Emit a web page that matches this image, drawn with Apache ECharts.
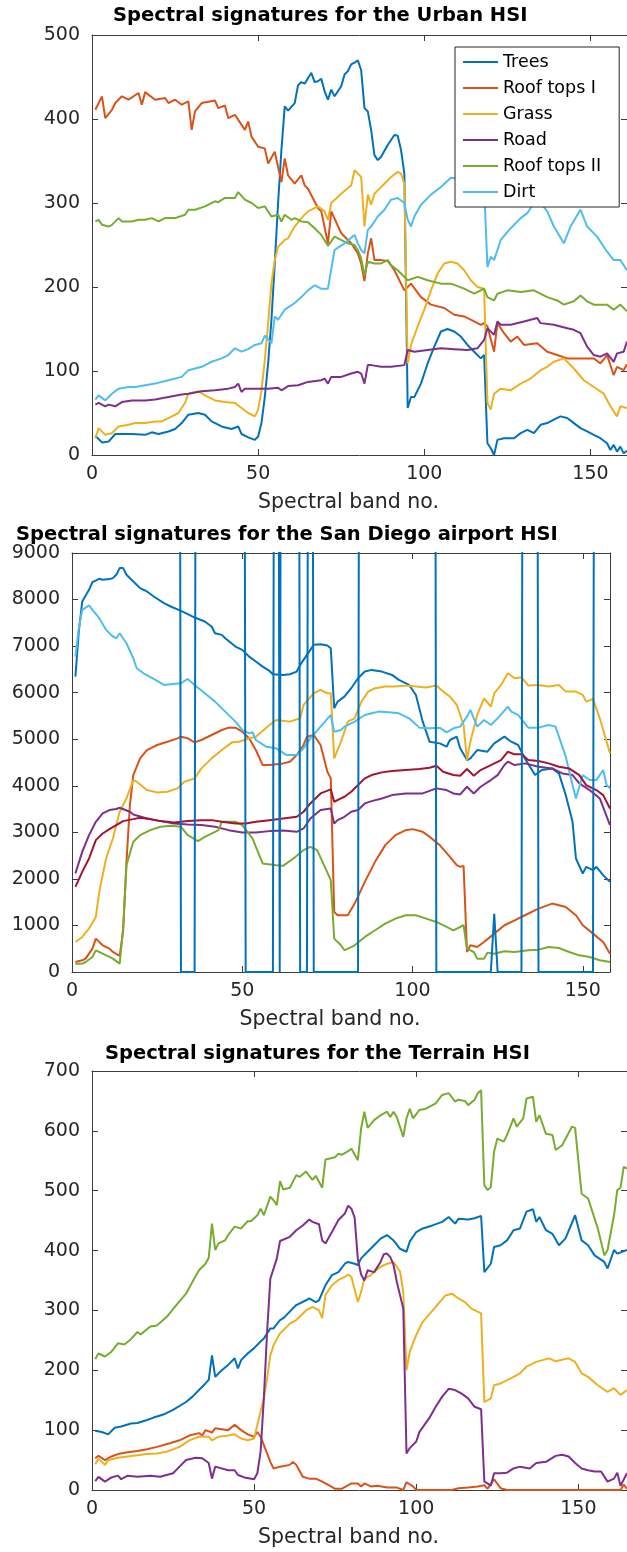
<!DOCTYPE html>
<html>
<head>
<meta charset="utf-8">
<script src="https://cdn.jsdelivr.net/npm/echarts@6/dist/echarts.min.js"></script>
<style>
html, body { margin: 0; padding: 0; background: #fff; }
#chart { width: 627px; height: 1552px; }
</style>
</head>
<body>
<div id="chart"></div>
<script>
// ---------- Urban HSI: [band, value] ----------
const urbanNames = ['Trees', 'Roof tops I', 'Grass', 'Road', 'Roof tops II', 'Dirt'];
const urbanBandTicks = [0, 50, 100, 150];
const urbanBandMax = 161;
const urbanValueTicks = [0, 100, 200, 300, 400, 500];

const urbanTrees = [[1,23],[3,15],[5,16],[7,25],[9,25],[12,25],[16,24],[18,27],[20,25],[23,28],[25,31],[27,38],[29,48],[32,50],[34,48],[36,40],[39,34],[42,31],[44,34],[45,25],[47,21],[49,18],[50,22],[51,38],[52,69],[53,109],[54,161],[55,228],[56,300],[57,363],[58,415],[59,410],[61,419],[62,440],[63,444],[64,442],[66,455],[67,444],[68,445],[69,448],[70,433],[71,423],[72,435],[73,427],[75,439],[76,453],[77,457],[78,465],[79,467],[80,470],[81,458],[82,413],[83,409],[84,387],[85,357],[86,351],[87,355],[89,369],[91,381],[92,380],[93,363],[94,335],[95,56],[96,69],[97,69],[99,85],[101,109],[103,129],[105,147],[107,150],[109,147],[111,141],[113,131],[115,123],[117,115],[118,119],[119,14],[120,8],[121,0],[122,18],[124,20],[127,20],[129,26],[131,30],[133,26],[135,36],[137,38],[139,42],[141,46],[143,44],[145,38],[147,32],[149,28],[151,24],[153,20],[155,14],[156,6],[157,12],[158,4],[159,10],[160,2],[161,5]];
const urbanRoofI = [[1,411],[3,427],[4,401],[6,411],[7,419],[9,427],[11,423],[14,431],[15,417],[16,432],[19,423],[22,425],[23,419],[25,423],[27,417],[29,421],[30,387],[31,409],[33,419],[37,422],[38,413],[40,416],[41,401],[43,405],[46,387],[47,397],[48,379],[50,367],[52,365],[53,347],[55,361],[57,325],[58,353],[59,333],[61,323],[63,333],[64,321],[65,317],[68,294],[69,290],[71,252],[72,290],[75,264],[78,252],[80,240],[81,228],[82,207],[83,240],[84,258],[85,232],[87,232],[89,231],[91,220],[94,196],[96,204],[99,188],[102,179],[106,175],[109,167],[112,165],[115,159],[117,155],[118,157],[119,153],[121,123],[122,157],[124,145],[126,135],[128,141],[130,131],[134,133],[137,123],[140,119],[143,115],[148,115],[151,115],[153,109],[155,119],[157,95],[158,105],[160,101],[161,108]];
const urbanGrass = [[1,20],[2,32],[4,24],[6,26],[8,34],[11,36],[13,38],[16,38],[19,40],[21,40],[23,44],[26,50],[28,62],[29,73],[32,76],[34,71],[37,65],[40,63],[43,62],[45,56],[47,50],[49,46],[50,54],[51,77],[52,113],[53,157],[54,204],[55,232],[56,248],[58,256],[59,258],[61,272],[63,282],[65,290],[68,296],[70,290],[71,280],[72,300],[75,311],[78,321],[79,339],[80,335],[81,331],[82,272],[83,310],[84,298],[85,311],[86,315],[88,323],[90,331],[92,337],[93,335],[94,323],[95,109],[96,131],[98,153],[100,173],[102,196],[104,216],[106,228],[108,230],[110,228],[112,220],[114,208],[116,200],[118,198],[119,62],[120,54],[121,73],[123,79],[126,77],[129,85],[132,91],[135,101],[137,105],[139,111],[142,115],[145,103],[148,89],[151,81],[154,73],[156,58],[158,46],[159,58],[161,56]];
const urbanRoad = [[1,60],[2,62],[4,58],[5,60],[7,58],[9,63],[12,65],[16,65],[19,66],[23,69],[27,72],[29,73],[33,76],[37,77],[41,79],[43,81],[44,85],[45,75],[46,79],[49,79],[53,79],[56,80],[57,77],[59,82],[62,83],[65,87],[69,89],[70,91],[71,85],[72,93],[75,93],[78,97],[80,99],[81,97],[82,85],[83,107],[84,107],[87,105],[90,105],[94,107],[95,125],[97,123],[101,125],[105,127],[109,126],[113,125],[116,127],[118,137],[119,151],[121,143],[122,159],[123,155],[126,155],[130,159],[134,163],[135,157],[139,155],[143,151],[145,149],[147,145],[149,129],[151,119],[153,117],[155,121],[157,111],[158,121],[160,123],[161,135]];
const urbanRoofII = [[1,278],[2,280],[3,274],[5,272],[6,274],[8,282],[9,278],[12,278],[14,280],[16,280],[18,282],[20,278],[22,282],[25,282],[28,286],[29,292],[31,292],[34,296],[37,302],[38,301],[40,306],[43,306],[44,313],[46,304],[48,300],[50,294],[52,296],[54,284],[56,286],[57,278],[58,286],[60,280],[61,282],[63,278],[65,277],[67,270],[69,262],[71,249],[73,260],[77,252],[79,250],[80,244],[81,234],[82,214],[83,230],[85,228],[87,228],[89,232],[90,226],[92,220],[95,208],[98,212],[101,208],[105,204],[108,204],[112,198],[115,192],[117,196],[118,198],[119,188],[121,184],[122,192],[125,196],[129,194],[133,196],[137,188],[140,184],[142,179],[145,183],[147,190],[149,183],[151,179],[155,179],[157,173],[159,179],[161,171]];
const urbanDirt = [[1,66],[2,71],[4,65],[6,73],[8,79],[11,81],[13,81],[16,83],[19,85],[23,89],[27,93],[29,101],[33,105],[36,111],[39,115],[41,119],[43,127],[45,123],[47,126],[49,131],[51,133],[52,142],[54,133],[55,165],[56,161],[58,173],[61,181],[63,188],[65,196],[67,202],[69,198],[71,198],[73,244],[76,252],[79,262],[80,252],[81,244],[82,240],[83,268],[84,272],[86,284],[88,292],[90,304],[92,306],[94,300],[95,280],[96,272],[97,284],[99,298],[102,310],[105,319],[108,330],[112,328],[116,325],[118,320],[119,224],[120,236],[121,232],[123,256],[126,270],[129,282],[131,288],[133,300],[135,300],[137,290],[139,272],[142,252],[144,272],[147,292],[149,272],[152,260],[155,242],[157,232],[159,232],[161,220]];

// ---------- San Diego airport HSI: [band, value] ----------
const sdBandTicks = [0, 50, 100, 150];
const sdBandMax = 158;
const sdValueTicks = [0, 1000, 2000, 3000, 4000, 5000, 6000, 7000, 8000, 9000];

const sdBlue = [[1,6345],[2,7313],[3,7958],[5,8209],[6,8374],[8,8446],[9,8425],[11,8439],[12,8460],[13,8532],[14,8676],[15,8676],[16,8532],[18,8389],[20,8245],[22,8174],[24,8066],[27,7923],[29,7851],[32,7758],[34,7686],[36,7614],[39,7528],[41,7421],[42,7277],[44,7241],[45,7170],[48,6991],[50,6919],[52,6775],[54,6668],[56,6560],[58,6467],[59,6396],[62,6381],[64,6396],[66,6453],[67,6596],[69,6812],[71,7027],[73,7041],[75,7012],[76,6955],[77,5664],[78,5808],[80,5915],[82,6095],[84,6310],[86,6453],[88,6489],[91,6453],[94,6381],[96,6274],[99,6166],[101,5951],[103,5378],[105,4947],[108,4911],[110,4840],[111,4983],[113,5055],[114,4804],[116,4553],[117,4589],[119,4768],[122,4732],[124,4911],[127,5055],[129,4947],[131,4876],[133,4589],[136,4230],[138,4338],[141,4373],[143,4266],[145,3800],[147,3226],[148,2438],[150,2115],[151,2259],[153,2187],[154,2259],[156,2080],[158,1936]];
const sdOrange = [[1,215],[3,251],[4,287],[6,502],[7,717],[9,574],[11,502],[12,430],[14,344],[15,860],[16,2366],[17,3585],[18,4230],[20,4589],[22,4768],[25,4876],[28,4947],[31,5019],[32,5055],[34,5019],[36,4933],[38,4983],[41,5091],[44,5198],[46,5248],[48,5248],[50,5162],[52,5019],[54,4768],[56,4445],[58,4445],[62,4481],[64,4517],[66,4660],[68,4876],[69,5055],[71,5091],[73,4876],[75,4302],[76,4159],[77,1291],[78,1219],[81,1219],[83,1470],[86,1936],[89,2366],[92,2725],[95,2940],[98,3047],[100,3069],[103,3011],[105,2904],[108,2725],[111,2474],[113,2294],[114,2259],[115,2280],[116,430],[117,574],[119,538],[121,645],[124,824],[127,1004],[130,1111],[133,1219],[137,1362],[141,1470],[145,1398],[148,1219],[150,1004],[153,824],[156,645],[158,394]];
const sdYellow = [[1,645],[3,753],[5,932],[7,1183],[8,1721],[10,2438],[12,2868],[14,3442],[16,3728],[18,4123],[19,4087],[22,3908],[25,3858],[28,3872],[31,3944],[33,4087],[36,4159],[38,4374],[41,4589],[44,4768],[47,4933],[49,4947],[52,5019],[54,5055],[58,5306],[60,5414],[64,5378],[67,5449],[68,5736],[71,5987],[73,6059],[75,5987],[76,5987],[77,4589],[79,4947],[80,5162],[81,5378],[83,5449],[85,5808],[87,6023],[89,6095],[92,6131],[95,6131],[98,6152],[101,6131],[104,6109],[107,6152],[109,6023],[111,5915],[113,5736],[115,5306],[116,4553],[117,4947],[119,5521],[121,5880],[123,5700],[124,5987],[126,6166],[128,6417],[130,6310],[132,6331],[134,6152],[137,6166],[140,6131],[143,6166],[145,6023],[148,6023],[150,5951],[151,5808],[153,5865],[155,5449],[158,4696]];
const sdPurple = [[1,2115],[3,2581],[5,2940],[7,3227],[9,3406],[11,3478],[13,3500],[14,3528],[17,3442],[18,3384],[22,3298],[26,3241],[30,3191],[34,3169],[38,3155],[42,3119],[46,3047],[50,2997],[54,2997],[58,3026],[62,3040],[66,3011],[68,3083],[70,3298],[73,3478],[76,3514],[77,3191],[78,3262],[80,3334],[82,3442],[84,3478],[86,3621],[88,3671],[91,3728],[94,3800],[98,3836],[103,3836],[107,3944],[110,3908],[112,3836],[114,3814],[116,3979],[118,3836],[120,3979],[123,4123],[125,4230],[127,4445],[128,4517],[130,4445],[133,4481],[137,4409],[141,4373],[144,4266],[147,4230],[149,4051],[152,3908],[155,3728],[158,3155]];
const sdGreen = [[1,179],[3,179],[4,215],[6,323],[7,466],[9,394],[11,323],[12,287],[14,179],[15,932],[16,2294],[18,2796],[20,2940],[23,3047],[26,3119],[29,3140],[32,3119],[34,2940],[37,2811],[39,2904],[42,3011],[43,3047],[44,3227],[48,3227],[50,3155],[53,2868],[56,2330],[60,2294],[62,2280],[65,2438],[68,2617],[70,2689],[72,2617],[74,2294],[76,1972],[77,717],[79,574],[80,466],[83,574],[86,753],[89,896],[92,1040],[95,1147],[98,1219],[101,1219],[104,1147],[107,1075],[110,968],[112,896],[115,1004],[116,502],[118,430],[119,287],[121,287],[122,416],[124,394],[127,445],[130,430],[134,466],[137,480],[140,538],[143,516],[146,430],[149,358],[152,323],[155,251],[158,215]];
const sdLightBlue = [[1,6776],[2,7385],[3,7780],[5,7873],[6,7780],[8,7600],[10,7349],[12,7206],[13,7170],[14,7277],[16,7062],[18,6740],[19,6525],[21,6417],[24,6295],[27,6166],[29,6181],[32,6202],[34,6295],[36,6166],[39,5987],[42,5808],[45,5593],[48,5378],[50,5198],[52,5127],[53,5150],[54,4983],[57,4840],[60,4804],[63,4660],[66,4660],[68,4804],[70,5019],[73,5270],[76,5521],[77,5162],[79,5198],[80,5270],[83,5378],[86,5521],[88,5557],[90,5593],[93,5578],[96,5557],[99,5449],[102,5249],[105,5234],[108,5249],[110,5148],[112,5234],[114,5270],[116,5485],[117,5629],[119,5270],[121,5414],[123,5306],[125,5449],[128,5700],[129,5593],[131,5521],[134,5249],[137,5249],[140,5306],[142,5270],[145,4625],[147,4015],[148,3728],[150,4230],[152,4123],[154,4123],[156,4338],[157,4015],[158,3944]];
const sdDarkRed = [[1,1829],[3,2151],[5,2438],[7,2832],[9,2975],[11,3069],[13,3155],[15,3241],[18,3284],[20,3313],[23,3284],[26,3241],[30,3212],[34,3241],[38,3262],[41,3262],[44,3227],[48,3191],[51,3191],[54,3227],[58,3262],[62,3298],[66,3334],[68,3442],[70,3621],[73,3836],[76,3922],[77,3657],[79,3728],[80,3764],[82,3872],[84,4015],[86,4159],[88,4230],[91,4288],[94,4316],[98,4338],[102,4359],[105,4388],[107,4431],[109,4302],[112,4230],[114,4216],[116,4359],[118,4216],[120,4338],[123,4445],[126,4553],[128,4732],[130,4675],[132,4675],[134,4553],[137,4531],[140,4481],[143,4409],[146,4373],[149,4230],[151,4015],[154,3908],[156,3800],[158,3513]];
// saturated / dead bands jump far above the plotted range
const sdSpikes = [[1,40000],[31,40000],[32,0],[36,0],[37,40000],[50,40000],[51,0],[59,0],[60,40000],[61,0],[62,40000],[66,40000],[67,0],[69,0],[70,40000],[71,0],[84,0],[85,40000],[106,40000],[107,0],[123,0],[124,1250],[125,0],[132,0],[133,40000],[136,40000],[137,0],[153,0],[154,40000],[158,40000]];

// ---------- Terrain HSI: [band, value] ----------
const terrainBandTicks = [0, 50, 100, 150];
const terrainBandMax = 165;
const terrainValueTicks = [0, 100, 200, 300, 400, 500, 600, 700];

const terrainBlue = [[1,99],[3,97],[5,93],[7,104],[9,106],[12,111],[14,112],[17,117],[19,121],[22,126],[25,134],[29,147],[31,156],[33,167],[35,178],[36,184],[37,225],[38,189],[40,200],[42,209],[44,220],[45,203],[46,217],[48,228],[50,237],[52,248],[53,253],[55,270],[56,270],[58,284],[59,287],[61,298],[63,309],[66,317],[67,320],[69,314],[70,317],[72,342],[74,359],[76,364],[78,378],[79,381],[81,378],[82,376],[83,387],[85,398],[87,409],[89,420],[91,426],[93,417],[95,403],[97,398],[98,415],[100,431],[102,437],[105,442],[108,448],[110,456],[112,445],[113,453],[116,452],[118,454],[120,458],[121,364],[123,378],[124,406],[126,409],[128,417],[130,434],[132,437],[134,465],[136,469],[137,448],[138,456],[140,434],[142,428],[144,409],[146,420],[149,459],[151,417],[153,409],[155,392],[158,381],[159,370],[161,401],[162,395],[165,401]];
const terrainOrange = [[1,53],[2,57],[4,50],[6,56],[8,60],[11,63],[14,65],[17,68],[20,72],[24,78],[27,83],[30,91],[33,95],[34,91],[35,100],[37,96],[38,103],[42,100],[44,109],[46,100],[48,93],[50,89],[51,97],[52,89],[53,75],[55,47],[56,36],[58,39],[61,42],[62,47],[63,42],[65,22],[67,19],[69,19],[71,14],[73,8],[75,2],[77,2],[80,11],[82,11],[83,6],[84,11],[86,6],[88,7],[91,4],[94,4],[96,0],[97,13],[99,6],[100,0],[111,0],[113,3],[116,4],[119,6],[121,8],[122,2],[124,18],[126,3],[128,0],[163,0],[164,9],[165,2]];
const terrainYellow = [[1,43],[2,52],[4,42],[5,50],[8,54],[11,56],[14,58],[17,60],[20,61],[23,64],[27,72],[30,83],[33,89],[36,89],[37,83],[39,89],[42,91],[44,93],[46,86],[48,83],[50,86],[51,109],[53,153],[54,186],[55,225],[56,242],[58,262],[59,267],[61,278],[63,284],[66,300],[68,306],[70,300],[71,287],[72,326],[74,342],[76,351],[78,356],[79,360],[80,356],[82,314],[83,331],[84,353],[86,359],[89,373],[91,378],[93,381],[95,365],[96,331],[97,200],[98,231],[100,259],[102,281],[106,306],[109,325],[111,328],[113,320],[115,314],[117,303],[120,295],[121,147],[123,153],[124,175],[126,178],[129,186],[132,195],[134,206],[137,214],[139,217],[141,220],[143,215],[147,220],[149,214],[151,195],[153,189],[156,175],[159,164],[161,170],[163,159],[165,167]];
const terrainPurple = [[1,15],[2,22],[4,14],[6,21],[8,24],[9,18],[11,24],[14,22],[18,24],[21,22],[25,28],[27,39],[29,50],[32,54],[34,53],[36,45],[37,19],[38,39],[42,33],[44,33],[45,25],[47,21],[50,18],[51,28],[52,64],[53,153],[54,264],[55,353],[57,387],[58,416],[61,423],[63,434],[65,442],[67,452],[68,448],[70,444],[71,417],[72,412],[74,431],[76,451],[78,462],[79,475],[80,470],[81,455],[82,385],[83,360],[84,350],[85,367],[87,364],[89,381],[90,394],[91,395],[92,389],[93,376],[94,348],[96,303],[97,61],[98,70],[100,81],[101,97],[104,120],[106,139],[108,156],[110,169],[112,167],[114,161],[116,153],[118,139],[120,135],[121,14],[122,11],[123,7],[124,28],[126,28],[128,29],[130,36],[132,39],[135,36],[137,45],[140,47],[143,57],[145,59],[147,56],[149,45],[151,36],[153,33],[155,31],[157,31],[159,14],[161,19],[162,29],[163,7],[165,28]];
const terrainGreen = [[1,219],[2,228],[4,223],[6,231],[8,245],[10,243],[12,252],[14,264],[15,260],[18,273],[20,275],[23,289],[26,309],[29,328],[31,348],[33,367],[35,378],[36,388],[37,445],[38,401],[39,412],[41,417],[42,426],[44,440],[46,437],[48,449],[49,449],[51,459],[52,470],[53,459],[55,490],[56,484],[57,476],[58,516],[59,502],[61,505],[63,526],[64,523],[66,532],[68,518],[69,525],[71,505],[72,552],[75,556],[76,562],[77,560],[79,566],[80,570],[82,551],[83,604],[84,632],[85,605],[87,618],[89,626],[91,632],[92,623],[93,632],[94,623],[96,590],[97,621],[98,637],[99,621],[101,635],[103,637],[106,646],[108,660],[110,663],[112,649],[113,652],[115,650],[116,643],[118,652],[119,663],[120,668],[121,509],[122,501],[123,506],[124,565],[125,587],[127,582],[128,593],[130,621],[131,607],[133,621],[134,654],[136,657],[137,615],[138,626],[140,595],[142,593],[143,568],[145,576],[148,607],[149,605],[151,495],[153,487],[156,437],[158,392],[159,401],[161,459],[162,501],[163,505],[164,540],[165,537]];

// ---------- styling ----------
const FONT = 'DejaVu Sans';
const INK = '#262626';
const AXIS = '#3c3c3c';
const C = { blue: '#0072BD', orange: '#D95319', yellow: '#EDB120', purple: '#7E2F8E', green: '#77AC30', cyan: '#4DBEEE', wine: '#A2142F' };

const grids = [
  { left: 92, top: 35, width: 535, height: 420 },
  { left: 72, top: 553, width: 538, height: 419 },
  { left: 92, top: 1071, width: 535, height: 419 }
];
const xAxes = [], yAxes = [];
const plainNumber = v => String(v);

function addAxes(i, bandTicks, bandMax, valueTicks) {
  const ls = { color: AXIS, width: 1 };
  const tick = { show: true, inside: true, length: 6, lineStyle: ls };
  const bx = { type: 'value', gridIndex: i, min: bandTicks[0], max: bandMax,
    interval: bandTicks[1] - bandTicks[0], splitLine: { show: false },
    axisLine: { show: true, onZero: false, lineStyle: ls }, axisTick: tick };
  const by = { type: 'value', gridIndex: i, min: valueTicks[0], max: valueTicks[valueTicks.length - 1],
    interval: valueTicks[1] - valueTicks[0], splitLine: { show: false },
    axisLine: { show: true, onZero: false, lineStyle: ls }, axisTick: tick };
  xAxes.push(Object.assign({}, bx, {
    position: 'bottom', name: 'Spectral band no.', nameLocation: 'middle', nameGap: 37,
    nameTextStyle: { fontFamily: FONT, fontSize: 20.5, color: INK, padding: [0, 22, 0, 0] },
    axisLabel: { fontFamily: FONT, fontSize: 19, color: INK, margin: 10, showMaxLabel: false, formatter: plainNumber }
  }));
  xAxes.push(Object.assign({}, bx, { position: 'top', axisLabel: { show: false } }));
  yAxes.push(Object.assign({}, by, {
    position: 'left',
    axisLabel: { fontFamily: FONT, fontSize: 19, color: INK, margin: 12, formatter: plainNumber }
  }));
  yAxes.push(Object.assign({}, by, { position: 'right', axisLabel: { show: false } }));
}
addAxes(0, urbanBandTicks, urbanBandMax, urbanValueTicks);
addAxes(1, sdBandTicks, sdBandMax, sdValueTicks);
addAxes(2, terrainBandTicks, terrainBandMax, terrainValueTicks);

function line(i, name, data, color) {
  return { type: 'line', name: name, xAxisIndex: 2 * i, yAxisIndex: 2 * i, data: data,
    symbol: 'none', showSymbol: false, clip: true, silent: true,
    lineStyle: { color: color, width: 2 }, itemStyle: { color: color } };
}

const series = [
  line(0, urbanNames[0], urbanTrees, C.blue),
  line(0, urbanNames[1], urbanRoofI, C.orange),
  line(0, urbanNames[2], urbanGrass, C.yellow),
  line(0, urbanNames[3], urbanRoad, C.purple),
  line(0, urbanNames[4], urbanRoofII, C.green),
  line(0, urbanNames[5], urbanDirt, C.cyan),

  line(1, 'sd1', sdBlue, C.blue),
  line(1, 'sd2', sdOrange, C.orange),
  line(1, 'sd3', sdYellow, C.yellow),
  line(1, 'sd4', sdPurple, C.purple),
  line(1, 'sd5', sdGreen, C.green),
  line(1, 'sd6', sdLightBlue, C.cyan),
  line(1, 'sd7', sdDarkRed, C.wine),
  line(1, 'sd8', sdSpikes, C.blue),

  line(2, 't1', terrainBlue, C.blue),
  line(2, 't2', terrainOrange, C.orange),
  line(2, 't3', terrainYellow, C.yellow),
  line(2, 't4', terrainPurple, C.purple),
  line(2, 't5', terrainGreen, C.green)
];

const titleStyle = { fontFamily: FONT, fontSize: 19.5, fontWeight: 'bold', color: '#000', lineHeight: 20 };

const chart = echarts.init(document.getElementById('chart'), null, { renderer: 'canvas' });
chart.setOption({
  animation: false,
  backgroundColor: '#fff',
  title: [
    { text: 'Spectral signatures for the Urban HSI', left: 113, top: 6, padding: 0, textStyle: titleStyle },
    { text: 'Spectral signatures for the San Diego airport HSI', left: 16, top: 525, padding: 0, textStyle: titleStyle },
    { text: 'Spectral signatures for the Terrain HSI', left: 105, top: 1044, padding: 0, textStyle: titleStyle }
  ],
  legend: {
    data: urbanNames,
    orient: 'vertical',
    left: 455, top: 47,
    padding: [6, 18, 6, 8],
    itemGap: 8,
    itemWidth: 35, itemHeight: 2,
    icon: 'rect',
    backgroundColor: '#fff',
    borderColor: INK, borderWidth: 1, borderRadius: 0,
    selectedMode: false,
    textStyle: { fontFamily: FONT, fontSize: 17.5, color: '#000', lineHeight: 17 }
  },
  grid: grids.map(g => Object.assign({ containLabel: false, show: false }, g)),
  xAxis: xAxes,
  yAxis: yAxes,
  series: series
});
</script>
</body>
</html>
